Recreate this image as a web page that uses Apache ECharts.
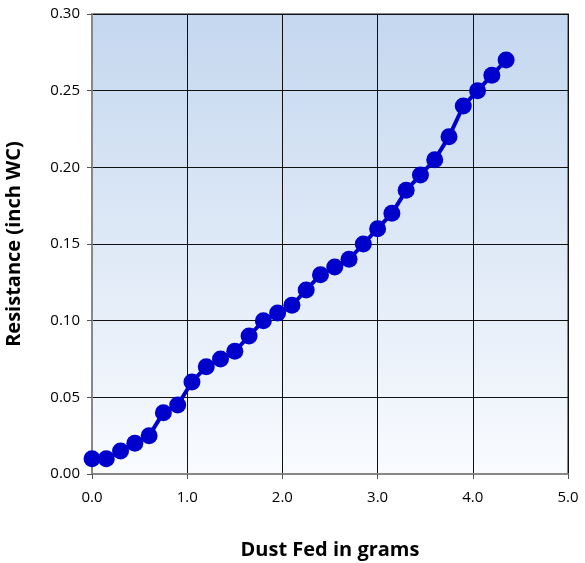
<!DOCTYPE html>
<html><head><meta charset="utf-8">
<script src="https://cdn.jsdelivr.net/npm/echarts@6/dist/echarts.min.js"></script>
<style>html,body{margin:0;padding:0;background:#fff}#c{width:585px;height:563px}</style>
</head><body><div id="c"></div>
<script>
const dustFed = [0.00,0.15,0.30,0.45,0.60,0.75,0.90,1.05,1.20,1.35,1.50,1.65,1.80,1.95,2.10,2.25,2.40,2.55,2.70,2.85,3.00,3.15,3.30,3.45,3.60,3.75,3.90,4.05,4.20,4.35];
const resistance = [0.010,0.010,0.015,0.020,0.025,0.040,0.045,0.060,0.070,0.075,0.080,0.090,0.100,0.105,0.110,0.120,0.130,0.135,0.140,0.150,0.160,0.170,0.185,0.195,0.205,0.220,0.240,0.250,0.260,0.270];
const xTitle = 'Dust Fed in grams';
const yTitle = 'Resistance (inch WC)';
const font = '"Open Sans", "Liberation Sans", sans-serif';
const chart = echarts.init(document.getElementById('c'));
chart.setOption({
  animation:false,
  grid:{left:92,right:17,top:14,bottom:89,outerBoundsMode:'none',containLabel:false,show:true,borderColor:'#888',borderWidth:2,
    backgroundColor:new echarts.graphic.LinearGradient(0,0,0,1,[{offset:0,color:'#c4d7ef'},{offset:1,color:'#f9fbfe'}])},
  xAxis:{type:'value',min:0,max:5,interval:1,
    name:xTitle,nameLocation:'middle',nameGap:66,
    nameTextStyle:{fontFamily:font,fontWeight:'bold',fontSize:20,color:'#000'},
    axisLine:{show:true,lineStyle:{color:'#888',width:2}},
    axisTick:{show:true,length:5,lineStyle:{color:'#555'}},
    axisLabel:{fontFamily:font,fontSize:15,color:'#000',margin:16,formatter:v=>v.toFixed(1)},
    splitLine:{show:true,lineStyle:{color:'#111',width:1}}},
  yAxis:{type:'value',min:0,max:0.30,interval:0.05,
    name:yTitle,nameLocation:'middle',nameGap:68,
    nameTextStyle:{fontFamily:font,fontWeight:'bold',fontSize:20,color:'#000'},
    axisLine:{show:true,lineStyle:{color:'#888',width:2}},
    axisTick:{show:true,length:5,lineStyle:{color:'#555'}},
    axisLabel:{fontFamily:font,fontSize:15,color:'#000',margin:12,formatter:v=>v.toFixed(2)},
    splitLine:{show:true,lineStyle:{color:'#111',width:1}}},
  series:[{type:'line',data:dustFed.map((x,i)=>[x,resistance[i]]),
    symbol:'circle',symbolSize:17,
    lineStyle:{color:'#0000cc',width:4},
    itemStyle:{color:'#0000cc'}}]
});
</script></body></html>
